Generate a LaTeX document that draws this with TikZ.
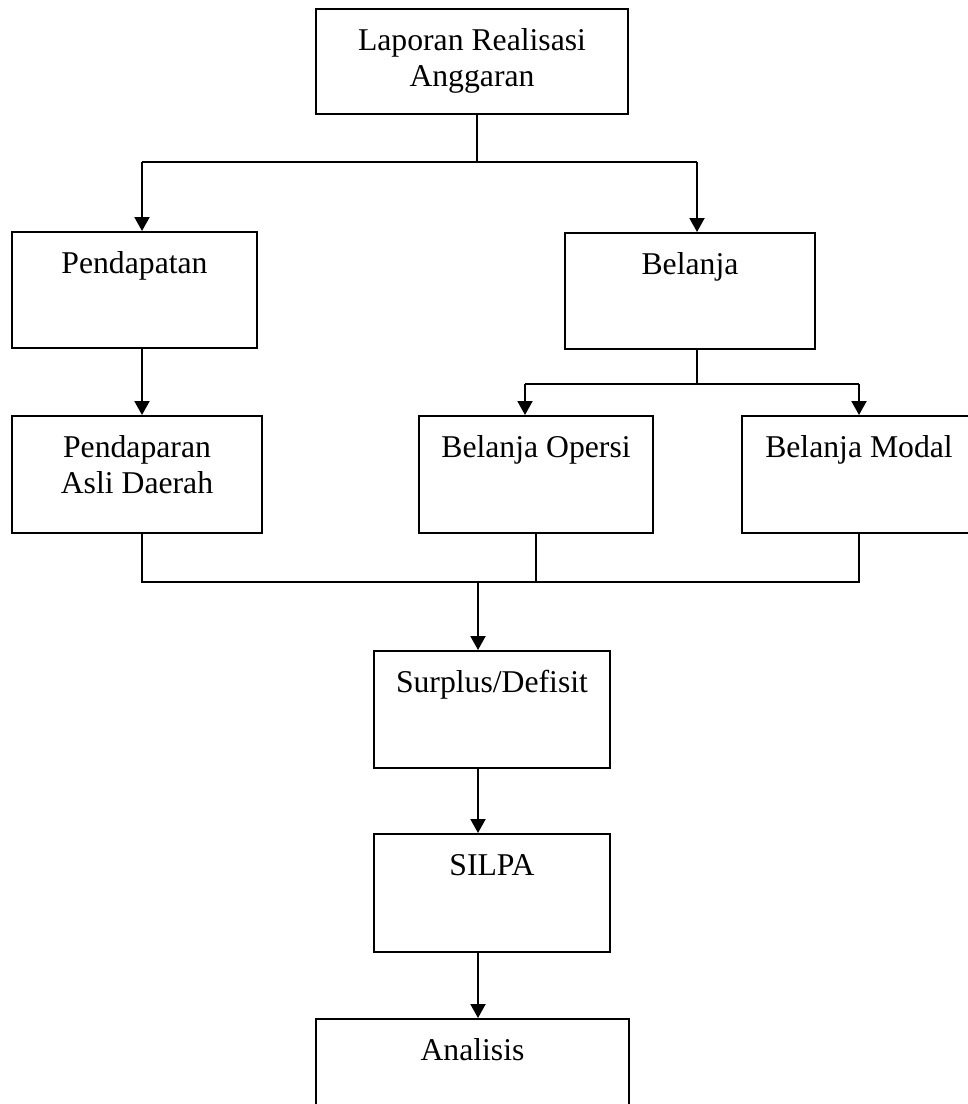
\documentclass[tikz,border=0pt]{standalone}
\usepackage{fontspec}
\setmainfont{Liberation Serif}
\usetikzlibrary{arrows.meta}

\begin{document}
\begin{tikzpicture}[%
    x=0.5pt, y=-0.5pt,                     % Work in pixels, top to bottom
    >={Triangle[length=7pt,width=7.5pt]},  % Solid arrow heads
    line width=1pt,                        % Same weight for boxes and lines
    ]
% -------------------------------------------------
% Box styles: text sits near the top of each box
\tikzset{
  box/.style={draw, rectangle, anchor=north, align=center,
    inner xsep=2pt, inner ysep=0pt,
    font=\fontsize{15.85}{18.2}\selectfont,
    text height=20.5pt, text depth=37.5pt},
  % Two lines of text: baseline is the lower line
  box2/.style={box, text height=38.7pt},
  % Connector line style
  norm/.style={->, draw},
}
\useasboundingbox (0,0) rectangle (968,1104);
% -------------------------------------------------
% Start by placing the nodes
\node [box2, minimum width=156pt, text depth=13.8pt] (lra) at (472,8)
  {Laporan Realisasi\\Anggaran};
\node [box, minimum width=122.5pt] (pend) at (134.5,231) {Pendapatan};
\node [box, minimum width=125pt] (bel) at (690,232) {Belanja};
\node [box2, minimum width=125pt, text depth=19.8pt] (pad) at (137,415)
  {Pendaparan\\Asli Daerah};
\node [box, minimum width=117pt, text depth=38pt] (bop) at (536,415) {Belanja Opersi};
\node [box, minimum width=117pt, text depth=38pt] (bmod) at (859,415) {Belanja Modal};
\node [box, minimum width=118pt, text depth=38pt] (sd) at (492,650) {Surplus/Defisit};
\node [box, minimum width=118pt, text depth=38.5pt] (silpa) at (492,833) {SILPA};
\node [box, minimum width=156.5pt] (anl) at (472.5,1018) {Analisis};

% -------------------------------------------------
% Split below the report
\coordinate (j1) at (477,162);
\coordinate (j1l) at (142,162);
\coordinate (j1r) at (697,162);
\draw (j1 |- lra.south) -- (j1);
\draw (j1l) -- (j1r);
\draw [norm] (j1l) -- (j1l |- pend.north);
\draw [norm] (j1r) -- (j1r |- bel.north);
\draw [norm] (j1l |- pend.south) -- (j1l |- pad.north);

% Split below Belanja
\coordinate (j2) at (697,384);
\coordinate (j2l) at (525,384);
\coordinate (j2r) at (859,384);
\draw (j2 |- bel.south) -- (j2);
\draw (j2l) -- (j2r);
\draw [norm] (j2l) -- (j2l |- bop.north);
\draw [norm] (j2r) -- (j2r |- bmod.north);

% Merge into the lower column
\coordinate (j3) at (478,582);
\draw (j1l |- pad.south) -- (j1l |- j3) -- (j2r |- j3) -- (j2r |- bmod.south);
\draw (bop.south) -- (bop.south |- j3);
\draw [norm] (j3) -- (j3 |- sd.north);
\draw [norm] (j3 |- sd.south) -- (j3 |- silpa.north);
\draw [norm] (j3 |- silpa.south) -- (j3 |- anl.north);
% -------------------------------------------------
\end{tikzpicture}
\end{document}
